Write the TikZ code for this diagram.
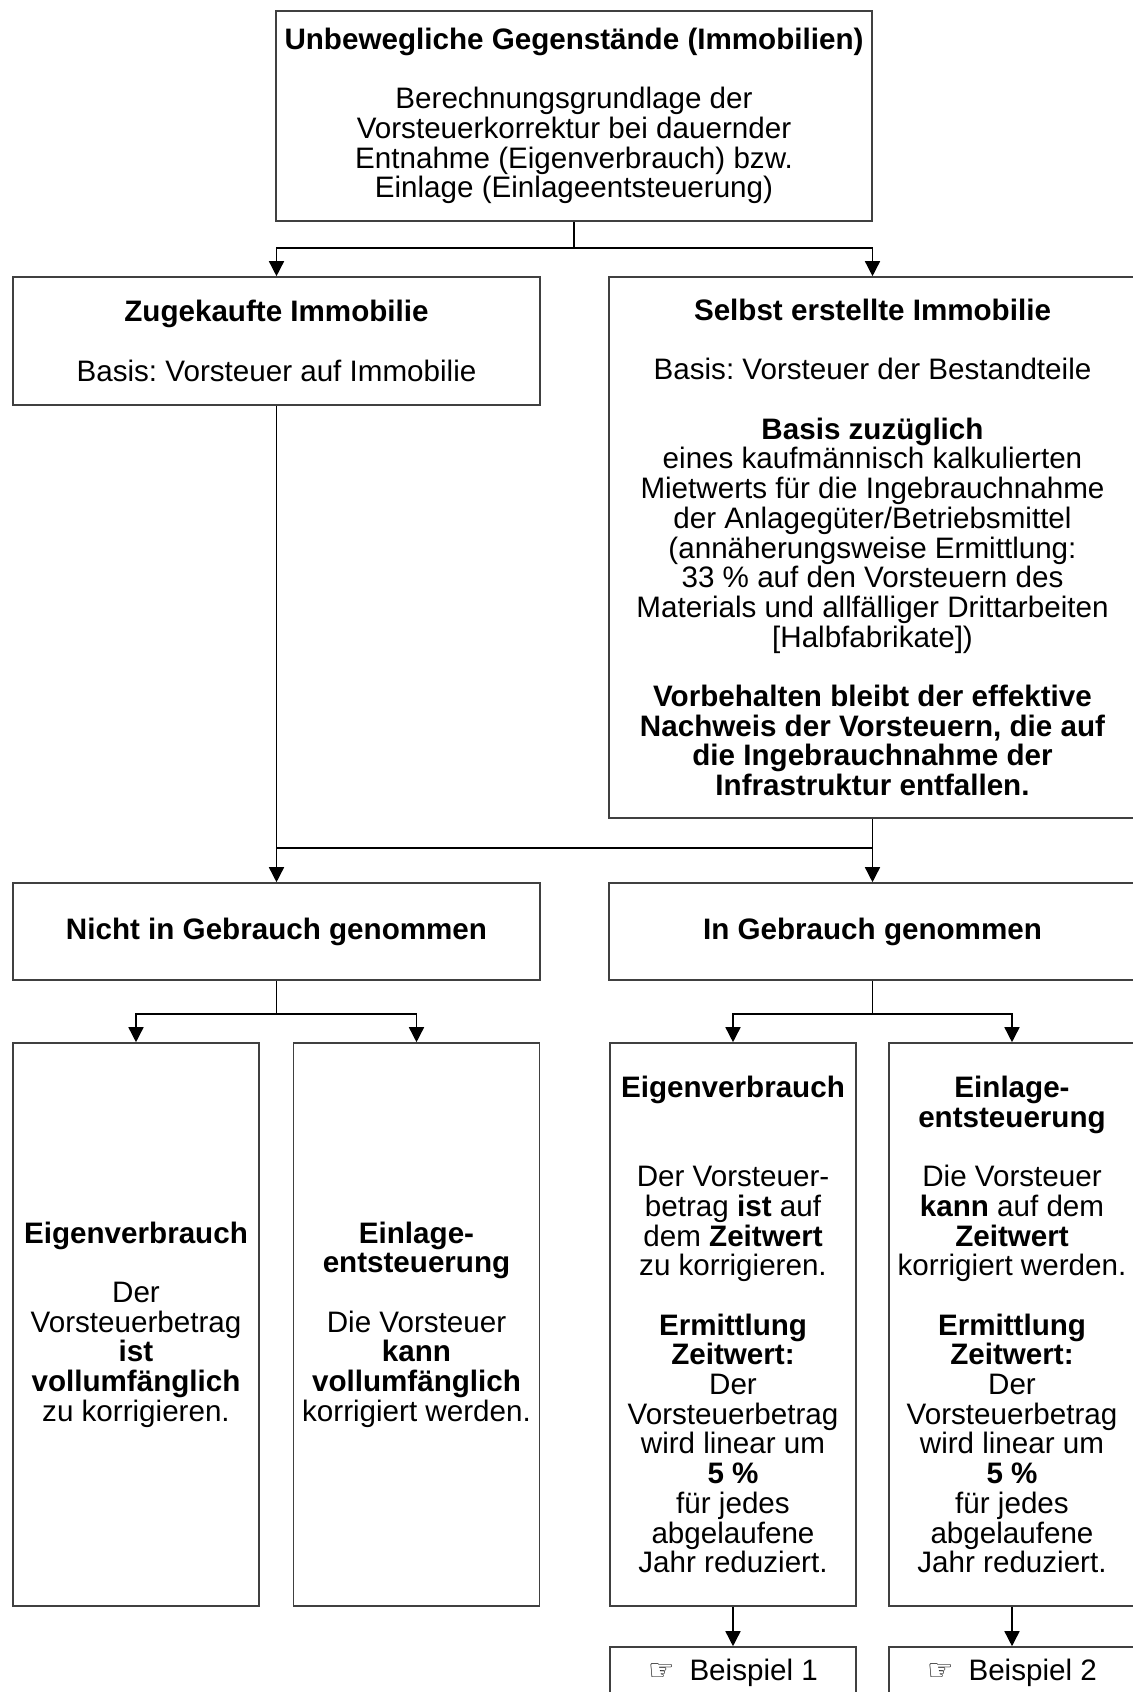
\documentclass[tikz,border=0pt]{standalone}
\usepackage{fontspec}
\setmainfont{Liberation Sans}
\newfontfamily\handfont{DejaVu Sans}
\usetikzlibrary{arrows.meta}
\frenchspacing

\tikzset{
  box/.style={draw=black!75, line width=0.8pt, align=center, inner sep=0pt,
    font=\fontsize{14.8}{14.85}\selectfont},
  halfbox/.style={box, minimum width=263.5pt},
  quarterbox/.style={box, minimum width=123pt, minimum height=281.5pt},
  arr/.style={line width=0.75pt, -{Triangle[length=7.5pt,width=7.5pt]}},
  ln/.style={line width=0.75pt}
}
\newcommand{\gapline}{\\[14.85pt]}
\newcommand{\gaptwo}{\\[29.7pt]}

\begin{document}
\begin{tikzpicture}[x=0.5pt,y=-0.5pt]
\useasboundingbox (0,0) rectangle (1133,1692);
%\draw[step=50,gray,very thin] (0,0) grid (1133,1692); %background grid

% top
\node[box, minimum width=298pt, minimum height=105pt] (top) at (574,116)
  {\textbf{Unbewegliche Gegenstände (Immobilien)}\gapline
   Berechnungsgrundlage der\\ Vorsteuerkorrektur bei dauernder\\
   Entnahme (Eigenverbrauch) bzw.\\ Einlage (Einlageentsteuerung)};

% second row
\node[halfbox, minimum height=64pt] (zug) at (276.5,341)
  {\textbf{Zugekaufte Immobilie}\gapline Basis: Vorsteuer auf Immobilie};
\node[halfbox, minimum height=270.5pt] (selbst) at (872.5,547.5)
  {\textbf{Selbst erstellte Immobilie}\gapline
   Basis: Vorsteuer der Bestandteile\gapline
   \textbf{Basis zuzüglich}\\ eines kaufmännisch kalkulierten\\
   Mietwerts für die Ingebrauchnahme\\ der Anlagegüter/Betriebsmittel\\
   (annäherungsweise Ermittlung:\\ 33 \% auf den Vorsteuern des\\
   Materials und allfälliger Drittarbeiten\\ {[Halbfabrikate])}\gapline
   \textbf{Vorbehalten bleibt der effektive}\\
   \textbf{Nachweis der Vorsteuern, die auf}\\
   \textbf{die Ingebrauchnahme der}\\ \textbf{Infrastruktur entfallen.}};

% third row
\node[halfbox, minimum height=48.5pt] (nicht) at (276.5,931.5)
  {\textbf{Nicht in Gebrauch genommen}};
\node[halfbox, minimum height=48.5pt] (ingeb) at (872.5,931.5)
  {\textbf{In Gebrauch genommen}};

% bottom row
\node[quarterbox] (eigA) at (136,1324.5)
  {\textbf{Eigenverbrauch}\gapline Der\\ Vorsteuerbetrag\\ \textbf{ist}\\
   \textbf{vollumfänglich}\\ zu korrigieren.};
\node[quarterbox] (einB) at (416.5,1324.5)
  {\textbf{Einlage-}\\ \textbf{entsteuerung}\gapline Die Vorsteuer\\
   \textbf{kann}\\ \textbf{vollumfänglich}\\ korrigiert werden.};
\node[quarterbox] (eigC) at (733,1324.5)
  {\textbf{Eigenverbrauch}\gaptwo Der Vorsteuer-\\ betrag \textbf{ist} auf\\
   dem \textbf{Zeitwert}\\ zu korrigieren.\gapline
   \textbf{Ermittlung}\\ \textbf{Zeitwert:}\\ Der\\ Vorsteuerbetrag\\
   wird linear um\\ \textbf{5 \%}\\ für jedes\\ abgelaufene\\ Jahr reduziert.};
\node[quarterbox] (einD) at (1012,1324.5)
  {\textbf{Einlage-}\\ \textbf{entsteuerung}\gapline Die Vorsteuer\\
   \textbf{kann} auf dem\\ \textbf{Zeitwert}\\ korrigiert werden.\gapline
   \textbf{Ermittlung}\\ \textbf{Zeitwert:}\\ Der\\ Vorsteuerbetrag\\
   wird linear um\\ \textbf{5 \%}\\ für jedes\\ abgelaufene\\ Jahr reduziert.};

% examples
\node[box, minimum width=123pt, minimum height=26pt] (bsp1) at (733,1673)
  {{\handfont ☞}\enspace Beispiel 1};
\node[box, minimum width=123pt, minimum height=26pt] (bsp2) at (1012,1673)
  {{\handfont ☞}\enspace Beispiel 2};

% connectors
\coordinate (j1) at (574,248);
\coordinate (j2l) at (276.5,848);
\coordinate (j2r) at (872.5,848);
\coordinate (j3) at (276.5,1014);
\coordinate (j4) at (872.5,1014);
\draw[ln] (top) -- (j1);
\draw[arr] (j1) -| (zug);
\draw[arr] (j1) -| (selbst);
\draw[arr] (zug) -- (nicht);
\draw[arr] (selbst) -- (ingeb);
\draw[ln] (j2l) -- (j2r);
\draw[ln] (nicht) -- (j3);
\draw[arr] (j3) -| (eigA);
\draw[arr] (j3) -| (einB);
\draw[ln] (ingeb) -- (j4);
\draw[arr] (j4) -| (eigC);
\draw[arr] (j4) -| (einD);
\draw[arr] (eigC) -- (bsp1);
\draw[arr] (einD) -- (bsp2);
\end{tikzpicture}
\end{document}
